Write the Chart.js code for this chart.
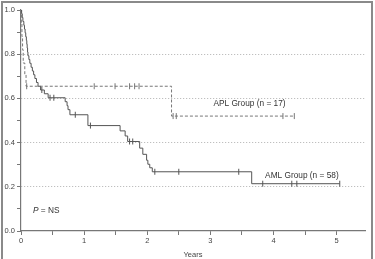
<!DOCTYPE html>
<html><head><meta charset="utf-8">
<script src="https://cdn.jsdelivr.net/npm/chart.js@4.4.1/dist/chart.umd.min.js"></script>
<style>html,body{margin:0;padding:0;background:#fff}#wrap{width:375px;height:259px;position:relative}</style>
</head><body><div id="wrap"><canvas id="c" width="375" height="259"></canvas></div>
<script>
// AML group (n = 58): step times (years) and survival after each step
const amlTimes = [0, 0.01, 0.02, 0.03, 0.045, 0.055, 0.065, 0.075, 0.085, 0.092, 0.098, 0.104, 0.11, 0.125, 0.14, 0.16, 0.18, 0.2, 0.22, 0.245, 0.27, 0.31, 0.37, 0.43, 0.70, 0.73, 0.745, 0.775, 1.06, 1.57, 1.65, 1.69, 1.88, 1.93, 1.99, 2.01, 2.04, 2.08, 3.655, 5.05];
const amlSurv  = [1.0, 0.983, 0.966, 0.948, 0.931, 0.914, 0.897, 0.879, 0.862, 0.845, 0.828, 0.810, 0.793, 0.776, 0.759, 0.741, 0.724, 0.707, 0.690, 0.672, 0.655, 0.638, 0.621, 0.603, 0.585, 0.567, 0.549, 0.526, 0.477, 0.453, 0.430, 0.405, 0.375, 0.347, 0.320, 0.302, 0.286, 0.268, 0.214, 0.214];
const amlCensor = [0.33, 0.46, 0.52, 0.86, 1.1, 1.72, 1.77, 2.12, 2.5, 3.45, 3.83, 4.29, 4.37, 5.05];

// APL group (n = 17)
const aplTimes = [0, 0.005, 0.015, 0.025, 0.035, 0.06, 0.08, 2.385, 4.33];
const aplSurv  = [1.0, 0.94, 0.88, 0.82, 0.76, 0.71, 0.655, 0.52, 0.52];
const aplCensor = [0.09, 1.16, 1.49, 1.72, 1.80, 1.87, 2.41, 2.46, 4.15, 4.33];

const xTickValues = [0, 0.5, 1, 1.5, 2, 2.5, 3, 3.5, 4, 4.5, 5];
const yTickValues = [0, 0.1, 0.2, 0.3, 0.4, 0.5, 0.6, 0.7, 0.8, 0.9, 1.0];

const labelAPL = 'APL Group (n = 17)';
const labelAML = 'AML Group (n = 58)';

function toPoints(ts, ss) { return ts.map((t, i) => ({x: t, y: ss[i]})); }
function survAt(ts, ss, t) { let v = ss[0]; for (let i = 0; i < ts.length; i++) { if (ts[i] <= t) v = ss[i]; } return v; }
function censorPoints(cs, ts, ss) { return cs.map(t => ({x: t, y: survAt(ts, ss, t)})); }

const FONT = "'Liberation Sans', Arial, sans-serif";
const lineCol = '#555';
const aplCol = '#777';

const framePlugin = {
  id: 'frame',
  beforeDraw(chart) {
    const ctx = chart.ctx;
    ctx.save();
    ctx.fillStyle = '#fff';
    ctx.fillRect(0, 0, chart.width, chart.height);
    ctx.strokeStyle = '#8a8a8a';
    ctx.lineWidth = 2;
    ctx.strokeRect(2, 2, 370, 262);
    ctx.restore();
  },
  afterDatasetsDraw(chart) {
    const ctx = chart.ctx, xs = chart.scales.x, ys = chart.scales.y;
    ctx.save();
    ctx.fillStyle = '#333';
    ctx.textBaseline = 'middle';
    ctx.font = '8.3px ' + FONT;
    ctx.textAlign = 'center';
    ctx.fillText(labelAPL, xs.getPixelForValue(3.62), ys.getPixelForValue(0.577));
    ctx.fillText(labelAML, xs.getPixelForValue(4.45), ys.getPixelForValue(0.25));
    ctx.textAlign = 'left';
    const px = xs.getPixelForValue(0.19), py = ys.getPixelForValue(0.09);
    ctx.font = 'italic 8.3px ' + FONT;
    ctx.fillText('P', px, py);
    const w = ctx.measureText('P').width;
    ctx.font = '8.3px ' + FONT;
    ctx.fillText(' = NS', px + w, py);
    ctx.restore();
  }
};

new Chart(document.getElementById('c'), {
  type: 'scatter',
  data: {
    datasets: [
      { data: toPoints(amlTimes, amlSurv), showLine: true, stepped: 'before', borderColor: lineCol, borderWidth: 1, pointRadius: 0, fill: false },
      { data: toPoints(aplTimes, aplSurv), showLine: true, stepped: 'before', borderColor: aplCol, borderWidth: 1, borderDash: [3, 2], pointRadius: 0, fill: false },
      { data: censorPoints(amlCensor, amlTimes, amlSurv), showLine: false, pointStyle: 'line', rotation: 90, pointRadius: 3, borderColor: lineCol, borderWidth: 1 },
      { data: censorPoints(aplCensor, aplTimes, aplSurv), showLine: false, pointStyle: 'line', rotation: 90, pointRadius: 3, borderColor: aplCol, borderWidth: 1 }
    ]
  },
  options: {
    responsive: false,
    animation: false,
    devicePixelRatio: 1,
    layout: { padding: { left: 0, top: 10, right: 10, bottom: 0 } },
    plugins: { legend: { display: false }, tooltip: { enabled: false } },
    scales: {
      x: {
        type: 'linear', min: 0, max: 5.45,
        afterBuildTicks: s => { s.ticks = xTickValues.map(v => ({value: v})); },
        afterFit: s => { s.height = 28; },
        grid: { drawOnChartArea: false, drawTicks: true, tickLength: 4, tickColor: '#777', tickWidth: 1 },
        border: { color: '#777', width: 1.2 },
        ticks: { font: { size: 7.5, family: FONT }, color: '#444', padding: 1, maxRotation: 0, autoSkip: false,
          callback: v => (Math.abs(v - Math.round(v)) < 1e-6 ? String(Math.round(v)) : '') },
        title: { display: true, text: 'Years', font: { size: 7.5, family: FONT }, color: '#444', padding: { top: 0, bottom: 0 } }
      },
      y: {
        min: 0, max: 1.0,
        afterBuildTicks: s => { s.ticks = yTickValues.map(v => ({value: v})); },
        afterFit: s => { s.width = 21; },
        grid: {
          drawTicks: true, tickLength: 4, tickWidth: 1, tickColor: '#777',
          color: ctx => { const v = Math.round(ctx.tick.value * 10); return (v % 2 === 0 && v > 0 && v < 10) ? '#b0b0b0' : 'rgba(0,0,0,0)'; },
          lineWidth: 1
        },
        border: { color: '#777', width: 1.2, dash: [1, 2] },
        ticks: { font: { size: 7.5, family: FONT }, color: '#444', padding: 2, autoSkip: false,
          callback: v => (Math.round(v * 10) % 2 === 0 ? v.toFixed(1) : '') }
      }
    }
  },
  plugins: [framePlugin]
});
</script>
</body></html>
